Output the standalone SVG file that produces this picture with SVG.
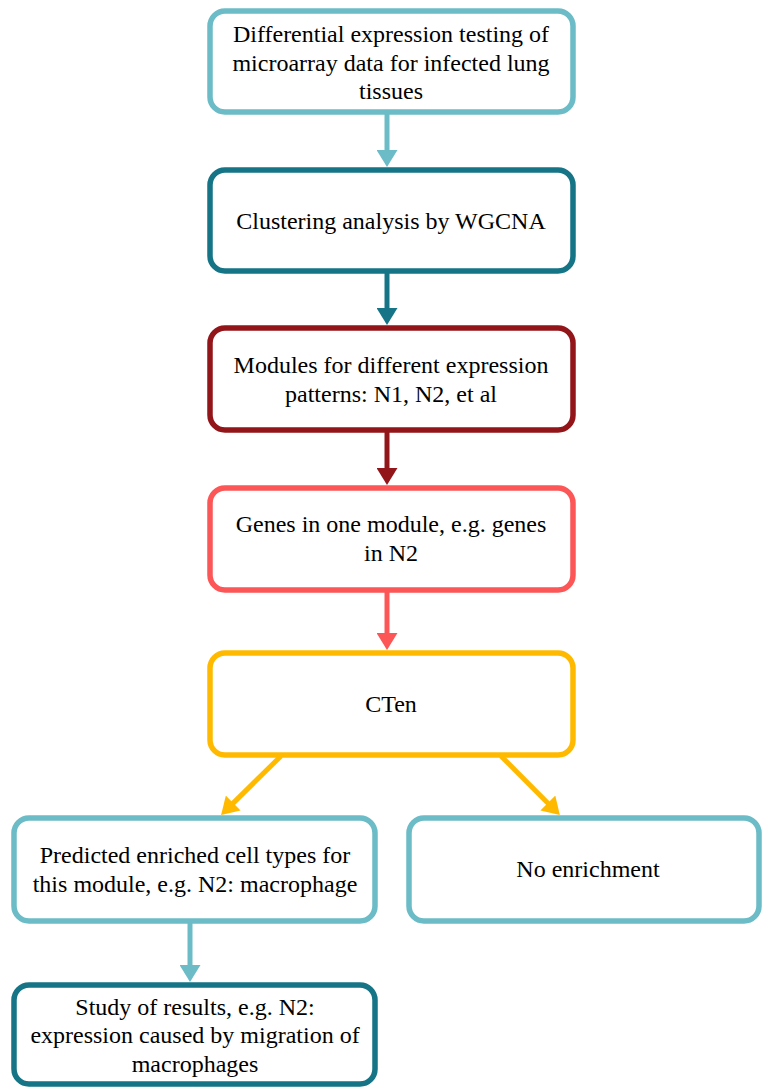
<svg xmlns="http://www.w3.org/2000/svg" width="762" height="1087" viewBox="0 0 762 1087">
<style>
.box{fill:#ffffff;stroke-width:5.5}
.lt{stroke:#6BBCC6}
.dt{stroke:#157486}
.dr{stroke:#921619}
.co{stroke:#FD5656}
.ye{stroke:#FFBA00}
.ln{fill:none;stroke-width:5}
text{font-family:'Liberation Serif','Times New Roman',serif;font-size:24px;fill:#000000;text-anchor:middle}
</style>
<defs>
<marker id="aLt" viewBox="0 0 17 21" refX="9" refY="10.5" markerWidth="17" markerHeight="21" markerUnits="userSpaceOnUse" orient="auto"><path d="M0,0 L17,10.5 L0,21 z" fill="#6BBCC6"/></marker>
<marker id="aDt" viewBox="0 0 17 21" refX="9" refY="10.5" markerWidth="17" markerHeight="21" markerUnits="userSpaceOnUse" orient="auto"><path d="M0,0 L17,10.5 L0,21 z" fill="#157486"/></marker>
<marker id="aDr" viewBox="0 0 17 21" refX="9" refY="10.5" markerWidth="17" markerHeight="21" markerUnits="userSpaceOnUse" orient="auto"><path d="M0,0 L17,10.5 L0,21 z" fill="#921619"/></marker>
<marker id="aCo" viewBox="0 0 17 21" refX="9" refY="10.5" markerWidth="17" markerHeight="21" markerUnits="userSpaceOnUse" orient="auto"><path d="M0,0 L17,10.5 L0,21 z" fill="#FD5656"/></marker>
<marker id="aYe" viewBox="0 0 17 21" refX="9" refY="10.5" markerWidth="17" markerHeight="21" markerUnits="userSpaceOnUse" orient="auto"><path d="M0,0 L17,10.5 L0,21 z" fill="#FFBA00"/></marker>
</defs>
<rect width="762" height="1087" fill="#ffffff"/>
<g id="connectors">
<line class="ln lt" x1="387" y1="114" x2="387" y2="159" marker-end="url(#aLt)"/>
<line class="ln dt" x1="387" y1="272" x2="387" y2="317" marker-end="url(#aDt)"/>
<line class="ln dr" x1="387" y1="431" x2="387" y2="477" marker-end="url(#aDr)"/>
<line class="ln co" x1="387" y1="591" x2="387" y2="642" marker-end="url(#aCo)"/>
<line class="ln ye" x1="281" y1="756" x2="226.8" y2="809.4" marker-end="url(#aYe)"/>
<line class="ln ye" x1="501" y1="756" x2="554.2" y2="809.4" marker-end="url(#aYe)"/>
<line class="ln lt" x1="190" y1="921" x2="190" y2="974" marker-end="url(#aLt)"/>
</g>
<g id="n1">
<rect class="box lt" x="210" y="11" width="363" height="101" rx="15"/>
<text x="391" y="42">Differential expression testing of</text>
<text x="391" y="71">microarray data for infected lung</text>
<text x="391" y="99">tissues</text>
</g>
<g id="n2">
<rect class="box dt" x="210" y="170" width="363" height="101" rx="15"/>
<text x="391" y="229">Clustering analysis by WGCNA</text>
</g>
<g id="n3">
<rect class="box dr" x="210" y="328" width="363" height="102" rx="15"/>
<text x="391" y="373">Modules for different expression</text>
<text x="391" y="402">patterns: N1, N2, et al</text>
</g>
<g id="n4">
<rect class="box co" x="210" y="488" width="363" height="102" rx="15"/>
<text x="391" y="532">Genes in one module, e.g. genes</text>
<text x="391" y="561">in N2</text>
</g>
<g id="n5">
<rect class="box ye" x="210" y="653" width="363" height="102" rx="15"/>
<text x="391" y="712">CTen</text>
</g>
<g id="n6">
<rect class="box lt" x="14" y="818" width="361" height="103" rx="15"/>
<text x="195" y="863">Predicted enriched cell types for</text>
<text x="195" y="892">this module, e.g. N2: macrophage</text>
</g>
<g id="n7">
<rect class="box lt" x="409" y="818" width="350" height="103" rx="15"/>
<text x="588" y="877">No enrichment</text>
</g>
<g id="n8">
<rect class="box dt" x="14" y="985" width="361" height="99" rx="15"/>
<text x="195" y="1015">Study of results, e.g. N2:</text>
<text x="195" y="1043">expression caused by migration of</text>
<text x="195" y="1072">macrophages</text>
</g>
</svg>
